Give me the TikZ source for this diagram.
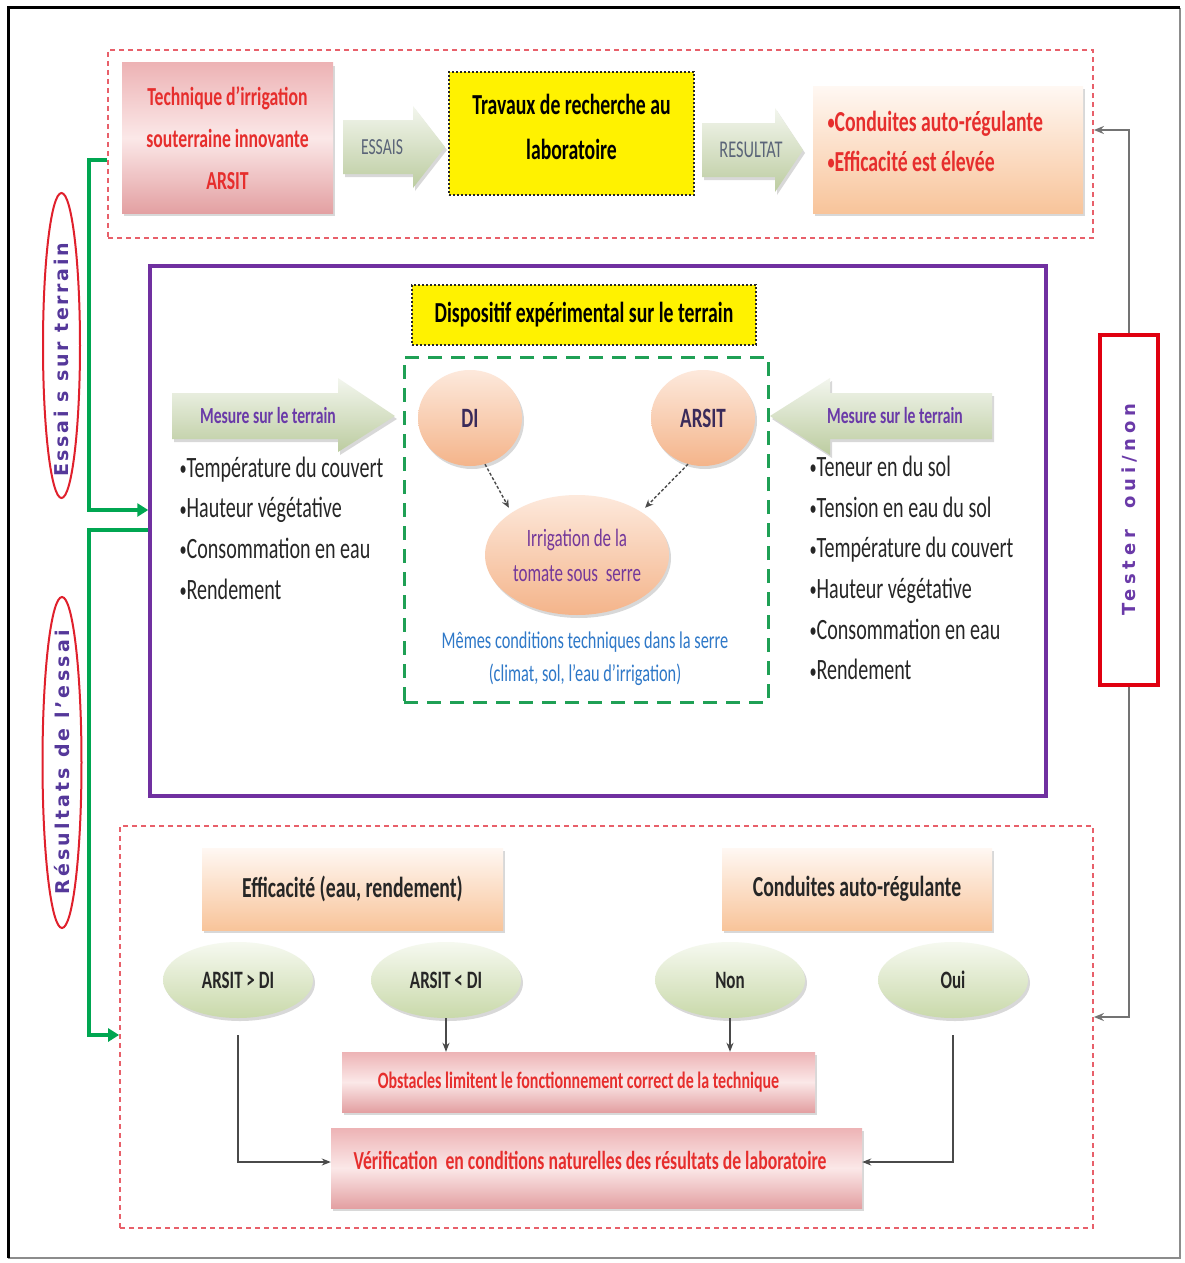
\documentclass[tikz,border=0pt]{standalone}
\usepackage{fontspec}
\setmainfont{Carlito}[FakeStretch=0.68]
\newfontfamily\widefont{DejaVu Sans}
\usetikzlibrary{shapes.geometric,shadows,arrows.meta}
\newcommand{\fsz}[2]{\fontsize{#1}{#2}\selectfont}
\newcommand{\bul}{\raisebox{1.5pt}{\fsz{21}{0}•}}
\definecolor{redtxt}{HTML}{E62E2D}
\definecolor{dashred}{HTML}{E8606A}
\definecolor{purplebox}{HTML}{7030A0}
\definecolor{purpletxt}{HTML}{6A3AA8}
\definecolor{vlabtxt}{HTML}{55389A}
\definecolor{dgreen}{HTML}{1FA055}
\definecolor{grnline}{HTML}{00A651}
\definecolor{redell}{HTML}{E0202C}
\definecolor{redbox}{HTML}{E00010}
\definecolor{bluetxt}{HTML}{2E78C8}
\definecolor{irrtxt}{HTML}{74389A}
\definecolor{darktxt}{HTML}{3A2A5A}
\definecolor{essaistxt}{HTML}{5A6478}
\definecolor{pinkA}{HTML}{EDB3B5}
\definecolor{pinkB}{HTML}{FBE8E8}
\definecolor{pinkC}{HTML}{E3A0A2}
\definecolor{peachA}{HTML}{FFF8F3}
\definecolor{peachC}{HTML}{F8C49A}
\definecolor{orA}{HTML}{FDE9DC}
\definecolor{orC}{HTML}{F4B48A}
\definecolor{grA}{HTML}{F6F9F0}
\definecolor{grC}{HTML}{C9D9AA}
\definecolor{arrA}{HTML}{F3F6EE}
\definecolor{arrC}{HTML}{BCCCA0}
\definecolor{connc}{HTML}{4A4A4A}
\begin{document}
\begin{tikzpicture}[x=1pt,y=1pt,
  shad/.style={drop shadow={shadow xshift=2pt,shadow yshift=-3pt,opacity=0.3}},
  box/.style={rectangle, inner sep=2pt, align=center, shad},
  pinkbox/.style={box, top color=pinkA, bottom color=pinkC, middle color=pinkB},
  peachbox/.style={box, top color=peachA, bottom color=peachC},
  orell/.style={ellipse, inner sep=1pt, align=center, top color=orA, bottom color=orC, shad},
  grell/.style={ellipse, inner sep=1pt, align=center, top color=grA, bottom color=grC, shad, minimum width=150pt, minimum height=76pt, font=\bfseries\fsz{25}{27}, text=black!85},
  arrowshade/.style={top color=arrA, bottom color=arrC, shad},
  dashedred/.style={draw=dashred, line width=1.8pt, dash pattern=on 5pt off 4pt},
  yelbox/.style={draw=black!85, line width=1.6pt, dash pattern=on 2pt off 2pt, fill=yellow},
  grn/.style={draw=grnline, line width=3.5pt, -{Triangle[length=11pt,width=13pt]}},
  darr/.style={draw=connc, line width=1.4pt, -{Stealth[length=9pt,width=7pt]}},
  gconn/.style={draw=black!55, line width=1.6pt, -{Stealth[length=10pt,width=8pt]}},
  dasharrow/.style={draw=black!70, line width=1.4pt, dash pattern=on 3pt off 2pt, -{Stealth[length=8pt,width=7pt]}},
  vlabel/.style={rotate=90, text=vlabtxt, inner sep=0pt}
]
\useasboundingbox (0,0) rectangle (1184,-1263);
\fill[white] (0,0) rectangle (1184,-1263);
% outer frame
\draw[black!45, line width=2pt] (1180,-8) -- (1180,-1258) -- (8,-1258);
\draw[black, line width=3pt] (8,-1258) -- (8,-8) -- (1180,-8);

% ---------- top section ----------
\node[dashedred, minimum width=985pt, minimum height=188pt] (topbox) at (600.5,-144) {};
\node[pinkbox, minimum width=211pt, minimum height=150pt, text=redtxt, font=\bfseries\fsz{26}{42}] (tech) at (227.5,-138) {Technique d’irrigation\\souterraine innovante\\ARSIT};
\path[arrowshade] (343,-120) -- (413,-120) -- (413,-106) -- (445,-147) -- (413,-188) -- (413,-174) -- (343,-174) -- cycle;
\node[text=essaistxt, font=\fsz{23}{26}] (essais) at (382,-147) {ESSAIS};
\node[yelbox, minimum width=245pt, minimum height=123pt] (lab) at (571.5,-133.5) {};
\node[font=\bfseries\fsz{29}{45}, align=center] (labt) at (571.5,-127) {Travaux de recherche au\\laboratoire};
\path[arrowshade] (702,-123) -- (775,-123) -- (775,-108) -- (803,-150) -- (775,-192) -- (775,-177) -- (702,-177) -- cycle;
\node[text=essaistxt, font=\fsz{24}{26}] (resultat) at (751,-150) {RESULTAT};
\node[peachbox, minimum width=270pt, minimum height=127pt] (res) at (948,-149.5) {};
\node[anchor=west, text=redtxt, font=\bfseries\fsz{29}{40}, align=left] (rest) at (824,-141) {\bul Conduites auto-régulante\\\bul Efficacité est élevée};

% ---------- middle section ----------
\node[draw=purplebox, line width=3.5pt, minimum width=896pt, minimum height=530pt] (field) at (598,-531) {};
\node[yelbox, minimum width=344pt, minimum height=60pt, font=\bfseries\fsz{29}{30}] (disp) at (584,-315) {Dispositif expérimental sur le terrain};
\node[draw=dgreen, line width=3pt, dash pattern=on 14pt off 9pt, minimum width=364pt, minimum height=345pt] (same) at (586,-529.5) {};

\path[arrowshade] (172,-393) -- (338,-393) -- (338,-378) -- (395,-416) -- (338,-452) -- (338,-439) -- (172,-439) -- cycle;
\node[text=purpletxt, font=\bfseries\fsz{23}{25}] (mes1) at (268,-416) {Mesure sur le terrain};
\path[arrowshade] (992,-393) -- (830,-393) -- (830,-378) -- (770,-416) -- (830,-455) -- (830,-439) -- (992,-439) -- cycle;
\node[text=purpletxt, font=\bfseries\fsz{23}{25}] (mes2) at (895,-416) {Mesure sur le terrain};

\node[anchor=west, align=left, font=\fsz{29.5}{40.7}, text=black!85] (list1) at (176,-528) {\bul Température du couvert\\\bul Hauteur végétative\\\bul Consommation en eau\\\bul Rendement};
\node[anchor=west, align=left, font=\fsz{29.5}{40.7}, text=black!85] (list2) at (806,-568) {\bul Teneur en du sol\\\bul Tension en eau du sol\\\bul Température du couvert\\\bul Hauteur végétative\\\bul Consommation en eau\\\bul Rendement};

\node[orell, minimum width=104pt, minimum height=96pt, font=\bfseries\fsz{28}{30}, text=darktxt] (di) at (470,-418) {DI};
\node[orell, minimum width=104pt, minimum height=96pt, font=\bfseries\fsz{28}{30}, text=darktxt] (arsit) at (703,-418) {ARSIT};
\node[orell, minimum width=184pt, minimum height=120pt, font=\fsz{25}{35}, text=irrtxt] (irr) at (577,-555) {Irrigation de la\\tomate sous\ \ serre};
\draw[dasharrow] (di.-72) -- ([shift={(-4pt,4pt)}]irr.146);
\draw[dasharrow] (arsit.-108) -- ([shift={(4pt,4pt)}]irr.34);
\node[text=bluetxt, font=\fsz{24}{33}, align=center] (condtxt) at (585,-659) {Mêmes conditions techniques dans la serre\\(climat, sol, l’eau d’irrigation)};

% ---------- right test box ----------
\node[draw=redbox, line width=3.5pt, fill=white, minimum width=58pt, minimum height=350pt] (tester) at (1129,-510) {};
\node[vlabel, text=purpletxt, font={\widefont\bfseries\fsz{18}{20}\addfontfeature{LetterSpace=26}}] (testert) at (tester) {Tester\hspace{22pt}oui/non};

% ---------- bottom section ----------
\node[dashedred, minimum width=973pt, minimum height=402pt] (botbox) at (606.5,-1027) {};
\node[peachbox, minimum width=301pt, minimum height=82pt, font=\bfseries\fsz{29}{30}, text=black!85] (eff) at (352.5,-889) {Efficacité (eau, rendement)};
\node[peachbox, minimum width=270pt, minimum height=82pt, font=\bfseries\fsz{29}{30}, text=black!85] (autoreg) at (857,-889) {Conduites auto-régulante};
\node[grell] (o1) at (238,-980) {ARSIT > DI};
\node[grell] (o2) at (446,-980) {ARSIT < DI};
\node[grell] (o3) at (730,-980) {Non};
\node[grell] (o4) at (953,-980) {Oui};
\node[pinkbox, minimum width=473pt, minimum height=60pt, text=redtxt, font=\bfseries\fsz{23.5}{25}] (obst) at (578.5,-1082) {Obstacles limitent le fonctionnement correct de la technique};
\node[pinkbox, minimum width=531pt, minimum height=80pt] (verif) at (596.5,-1168) {};
\node[text=redtxt, font=\bfseries\fsz{26}{28}] (verift) at (590,-1160) {Vérification\ \ en conditions naturelles des résultats de laboratoire};

\draw[darr] (o2.south) -- (o2.south |- obst.north);
\draw[darr] (o3.south) -- (o3.south |- obst.north);
\draw[darr] ([yshift=-17pt]o1.south) |- ([yshift=6pt]verif.west);
\draw[darr] ([yshift=-17pt]o4.south) |- ([yshift=6pt]verif.east);

% ---------- gray feedback connectors ----------
\draw[gconn] (tester.north) |- ([yshift=14pt]topbox.east);
\draw[gconn] (tester.south) |- ([yshift=10pt]botbox.east);

% ---------- left labels ----------
\node[draw=redell, line width=2pt, ellipse, minimum width=37pt, minimum height=305pt] (ell1) at (61.5,-345.5) {};
\node[vlabel, font={\widefont\bfseries\fsz{19}{20}\addfontfeature{LetterSpace=14}}] (ell1t) at (61.5,-360) {Essai s sur terrain};
\node[draw=redell, line width=2pt, ellipse, minimum width=39pt, minimum height=331pt] (ell2) at (62,-762.5) {};
\node[vlabel, font={\widefont\bfseries\fsz{19}{20}\addfontfeature{LetterSpace=17}}] (ell2t) at (ell2) {Résultats de l’essai};

% ---------- green connectors ----------
\coordinate (g1) at (89,-510);
\coordinate (g2) at (89,-530);
\coordinate (g3) at (89,-1035);
\draw[grn] ([yshift=-16pt]topbox.west) -| (g1) -- (g1 -| field.west);
\draw[grn] (g2 -| field.west) -- (g2) -- (g3) -- (g3 -| botbox.west);
\end{tikzpicture}
\end{document}
